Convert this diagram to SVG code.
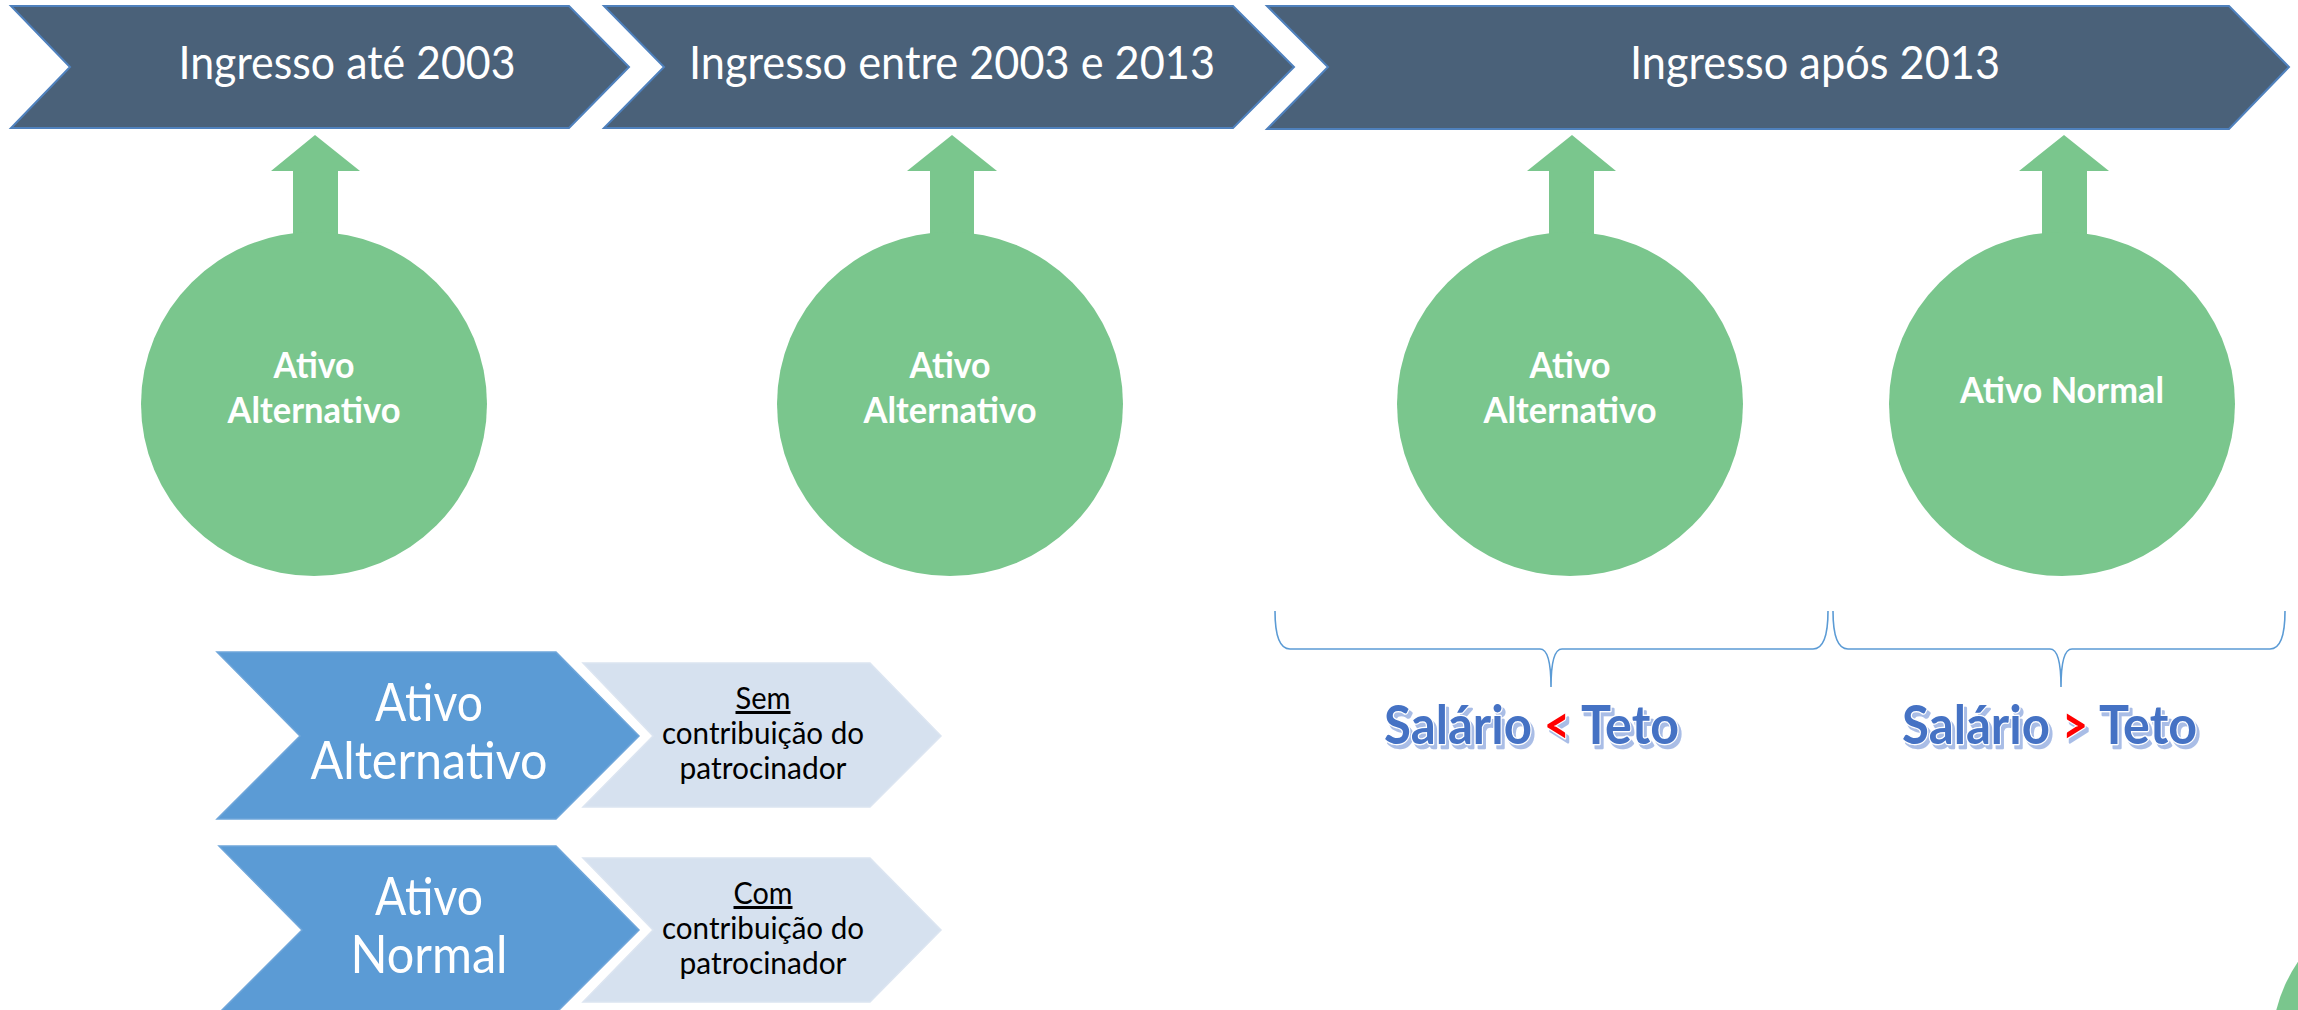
<svg xmlns="http://www.w3.org/2000/svg" width="2298" height="1010" viewBox="0 0 2298 1010">
<defs>
<style>
.hdr{fill:#4A6179;stroke:#4F81BD;stroke-width:2}
.grn{fill:#7AC68D}
.dk{fill:#5B9BD5;stroke:#6FA6DA;stroke-width:1.5}
.lt{fill:#D6E1EF;stroke:#DCE5F1;stroke-width:1.5}
.brace{fill:none;stroke:#5B9BD5;stroke-width:1.6}
text{font-family:Lato,"Open Sans","Liberation Sans",sans-serif;text-anchor:middle}
.t1{fill:#fff;font-size:47px}
.t2{fill:#fff;font-size:37px;font-weight:700}
.t3{fill:#fff;font-size:52px}
.t4{fill:#000;font-size:30px}
.sal{font-size:54px;font-weight:700;fill:#4472C4;stroke:#fff;stroke-width:2.5;paint-order:stroke;stroke-linejoin:round;filter:url(#sh);text-anchor:start}
.red{fill:#FF0000}
</style>
<filter id="sh" x="-10%" y="-30%" width="130%" height="170%">
<feDropShadow dx="3" dy="4" stdDeviation="0.6" flood-color="#A9BDE6" flood-opacity="1"/>
</filter>
</defs>
<rect width="2298" height="1010" fill="#fff"/>

<g id="hdr1">
<polygon class="hdr" points="11,6 569,6 629,67 569,128 11,128 70,67"/>
<text class="t1" x="347" y="79" textLength="337" lengthAdjust="spacingAndGlyphs">Ingresso até 2003</text>
</g>
<g id="hdr2">
<polygon class="hdr" points="604,6 1233,6 1294,67 1233,128 604,128 664,67"/>
<text class="t1" x="952" y="79" textLength="526" lengthAdjust="spacingAndGlyphs">Ingresso entre 2003 e 2013</text>
</g>
<g id="hdr3">
<polygon class="hdr" points="1267,6 2229,6 2289,67 2229,129 1267,129 1328,67"/>
<text class="t1" x="1815" y="79" textLength="370" lengthAdjust="spacingAndGlyphs">Ingresso após 2013</text>
</g>

<g id="connectors">
<polygon class="grn" points="315,135 360,171 338,171 338,240 293,240 293,171 271,171"/>
<polygon class="grn" points="952,135 997,171 974,171 974,240 930,240 930,171 907,171"/>
<polygon class="grn" points="1572,135 1616,171 1594,171 1594,240 1549,240 1549,171 1527,171"/>
<polygon class="grn" points="2064,135 2109,171 2087,171 2087,240 2042,240 2042,171 2019,171"/>
<path class="brace" d="M1275,611 Q1275,649 1290,649 L1540,649 Q1551,649 1551,687 Q1551,649 1562,649 L1813,649 Q1828,649 1828,611"/>
<path class="brace" d="M1833,611 Q1833,649 1848,649 L2050,649 Q2061,649 2061,687 Q2061,649 2072,649 L2270,649 Q2285,649 2285,611"/>
</g>

<g id="circ1">
<ellipse class="grn" cx="314" cy="404" rx="173" ry="172"/>
<text class="t2" x="314" y="378" textLength="81" lengthAdjust="spacingAndGlyphs">Ativo</text>
<text class="t2" x="314" y="423" textLength="173" lengthAdjust="spacingAndGlyphs">Alternativo</text>
</g>
<g id="circ2">
<ellipse class="grn" cx="950" cy="404" rx="173" ry="172"/>
<text class="t2" x="950" y="378" textLength="81" lengthAdjust="spacingAndGlyphs">Ativo</text>
<text class="t2" x="950" y="423" textLength="173" lengthAdjust="spacingAndGlyphs">Alternativo</text>
</g>
<g id="circ3">
<ellipse class="grn" cx="1570" cy="404" rx="173" ry="172"/>
<text class="t2" x="1570" y="378" textLength="81" lengthAdjust="spacingAndGlyphs">Ativo</text>
<text class="t2" x="1570" y="423" textLength="173" lengthAdjust="spacingAndGlyphs">Alternativo</text>
</g>
<g id="circ4">
<ellipse class="grn" cx="2062" cy="404" rx="173" ry="172"/>
<text class="t2" x="2062" y="403" textLength="204" lengthAdjust="spacingAndGlyphs">Ativo Normal</text>
</g>

<g id="sal1">
<text class="sal" x="1384" y="744" textLength="148" lengthAdjust="spacingAndGlyphs">Salário</text>
<text class="sal red" x="1544" y="744" textLength="26" lengthAdjust="spacingAndGlyphs">&lt;</text>
<text class="sal" x="1581" y="744" textLength="98" lengthAdjust="spacingAndGlyphs">Teto</text>
</g>
<g id="sal2">
<text class="sal" x="1902" y="744" textLength="148" lengthAdjust="spacingAndGlyphs">Salário</text>
<text class="sal red" x="2062" y="744" textLength="26" lengthAdjust="spacingAndGlyphs">&gt;</text>
<text class="sal" x="2099" y="744" textLength="98" lengthAdjust="spacingAndGlyphs">Teto</text>
</g>

<g id="altDark">
<polygon class="dk" points="217,652 556,652 639,736 556,819 217,819 300,736"/>
<text class="t3" x="429" y="721" textLength="108" lengthAdjust="spacingAndGlyphs">Ativo</text>
<text class="t3" x="429" y="779" textLength="237" lengthAdjust="spacingAndGlyphs">Alternativo</text>
</g>
<g id="altLight">
<polygon class="lt" points="583,663 870,663 941,736 870,807 583,807 653,736"/>
<text class="t4" x="763" y="709" textLength="55" lengthAdjust="spacingAndGlyphs" text-decoration="underline">Sem</text>
<text class="t4" x="763" y="744" textLength="202" lengthAdjust="spacingAndGlyphs">contribuição do</text>
<text class="t4" x="763" y="779" textLength="167" lengthAdjust="spacingAndGlyphs">patrocinador</text>
</g>
<g id="normDark">
<polygon class="dk" points="219,846 556,846 639,930 556,1013 219,1013 302,930"/>
<text class="t3" x="429" y="915" textLength="108" lengthAdjust="spacingAndGlyphs">Ativo</text>
<text class="t3" x="429" y="973" textLength="157" lengthAdjust="spacingAndGlyphs">Normal</text>
</g>
<g id="normLight">
<polygon class="lt" points="583,858 870,858 941,930 870,1002 583,1002 653,930"/>
<text class="t4" x="763" y="904" textLength="59" lengthAdjust="spacingAndGlyphs" text-decoration="underline">Com</text>
<text class="t4" x="763" y="939" textLength="202" lengthAdjust="spacingAndGlyphs">contribuição do</text>
<text class="t4" x="763" y="974" textLength="167" lengthAdjust="spacingAndGlyphs">patrocinador</text>
</g>

<g id="cornerShape">
<ellipse class="grn" cx="2445" cy="1045" rx="173" ry="158"/>
</g>
</svg>
